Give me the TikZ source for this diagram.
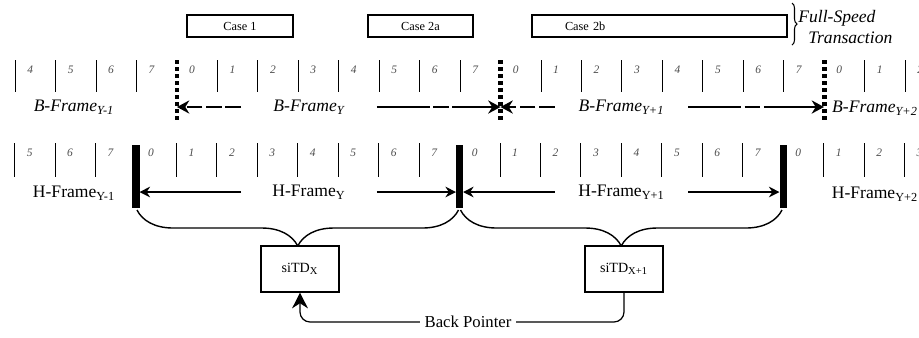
\documentclass[tikz,border=0pt]{standalone}
\usepackage{fontspec}
\setmainfont{Liberation Serif}
\usetikzlibrary{arrows.meta,decorations.pathreplacing}

\begin{document}
\begin{tikzpicture}[
  tick/.style={line width=0.6pt},
  digit/.style={font=\fontsize{6.5}{7}\selectfont\itshape, text=black!70, inner sep=0pt},
  bbound/.style={line width=2.8pt, dash pattern=on 2.3pt off 1.7pt},
  hbound/.style={line width=4pt},
  casebox/.style={draw, line width=0.6pt, minimum height=0.44cm, inner sep=1pt, font=\fontsize{7}{8}\selectfont},
  flabel/.style={fill=white, inner sep=1pt, font=\fontsize{10}{12}\selectfont},
  blabel/.style={flabel, font=\fontsize{10}{12}\selectfont\itshape},
  barr/.style={-{Stealth[length=7pt,width=7.5pt]}, line width=1.5pt, dash pattern=on 30pt off 2pt on 9pt off 2pt},
  barrl/.style={barr, dash pattern=on 9pt off 2pt},
  harr/.style={-{Stealth[length=6pt,width=6pt]}, line width=0.8pt, shorten >=2pt},
  hbrace/.style={decorate, decoration={brace, amplitude=0.72cm}, line width=0.8pt},
  tdbox/.style={draw, line width=0.6pt, fill=white, minimum width=1.56cm, minimum height=0.92cm, font=\fontsize{8}{9}\selectfont},
  bptr/.style={line width=0.7pt, rounded corners=0.2cm},
]
\useasboundingbox (0,0) rectangle (18.38,-6.74);

% ---------- Full-speed cases ----------
\node[casebox, minimum width=2.12cm] (c1) at (4.8,-0.52) {Case 1};
\node[casebox, minimum width=2.1cm] (c2a) at (8.41,-0.52) {Case 2a};
\node[casebox, text width=3.78cm, align=left, inner xsep=0.66cm] (c2b) at (13.19,-0.52) {Case 2b};
\draw[decorate, decoration={brace, amplitude=0.1cm}, line width=0.6pt] (15.84,-0.06) -- (15.84,-0.9);
\node[anchor=west, align=left, inner sep=0pt, font=\fontsize{10}{12}\selectfont\itshape] (fst) at (15.96,-0.54)
  {Full-Speed\\\hspace*{0.2cm}Transaction};

% ---------- B-Frame row ----------
\foreach \k in {-4,...,18}{
  \pgfmathtruncatemacro{\d}{mod(\k+16,8)}
  \pgfmathsetmacro{\x}{3.54+0.809*\k}
  \ifnum\d=0
    \draw[bbound] (\x,-1.2) -- (\x,-2.44);
  \else
    \draw[tick] (\x,-1.2) -- (\x,-1.84);
  \fi
  \node[digit] (bd\k) at (\x+0.3,-1.4) {\d};
}
\coordinate (bb0) at (3.54,-2.14);
\coordinate (bb1) at (10.01,-2.14);
\coordinate (bb2) at (16.48,-2.14);
\node[blabel] (lbYm) at (1.48,-2.14) {B-Frame\textsubscript{Y-1}};
\node[blabel, minimum width=2.7cm] (lbY) at (6.18,-2.14) {B-Frame\textsubscript{Y}};
\node[blabel, minimum width=2.66cm] (lbY1) at (12.43,-2.14) {B-Frame\textsubscript{Y+1}};
\node[blabel] (lbY2) at (17.5,-2.16) {B-Frame\textsubscript{Y+2}};
\draw[barrl] (lbY) -- (bb0);
\draw[barr] (lbY) -- (bb1);
\draw[barrl] (lbY1) -- (bb1);
\draw[barr] (lbY1) -- (bb2);

% ---------- H-Frame row ----------
\foreach \k in {-3,...,19}{
  \pgfmathtruncatemacro{\d}{mod(\k+16,8)}
  \pgfmathsetmacro{\x}{2.72+0.809*\k}
  \ifnum\d=0
    \draw[hbound] (\x,-2.9) -- (\x,-4.16);
  \else
    \draw[tick] (\x,-2.86) -- (\x,-3.54);
  \fi
  \node[digit] (hd\k) at (\x+0.3,-3.06) {\d};
}
\coordinate (hb0) at (2.72,-3.84);
\coordinate (hb1) at (9.19,-3.84);
\coordinate (hb2) at (15.66,-3.84);
\node[flabel] (lhYm) at (1.48,-3.86) {H-Frame\textsubscript{Y-1}};
\node[flabel, minimum width=2.7cm] (lhY) at (6.18,-3.84) {H-Frame\textsubscript{Y}};
\node[flabel, minimum width=2.66cm] (lhY1) at (12.43,-3.84) {H-Frame\textsubscript{Y+1}};
\node[flabel] (lhY2) at (17.5,-3.88) {H-Frame\textsubscript{Y+2}};
\draw[harr] (lhY) -- (hb0);
\draw[harr] (lhY) -- (hb1);
\draw[harr] (lhY1) -- (hb1);
\draw[harr] (lhY1) -- (hb2);

% ---------- siTDs ----------
\draw[hbrace] (9.17,-4.2) -- (2.74,-4.2);
\draw[hbrace] (15.64,-4.2) -- (9.21,-4.2);
\node[tdbox] (sx) at (6.0,-5.38) {siTD\textsubscript{X}};
\node[tdbox] (sx1) at (12.48,-5.38) {siTD\textsubscript{X+1}};
\node[fill=white, inner xsep=2.5pt, inner ysep=1pt, font=\fontsize{9.5}{11}\selectfont] (bp) at (9.36,-6.44) {Back Pointer};
\draw[bptr] (sx1.south) |- (bp.east);
\draw[bptr, -{Stealth[length=9pt,width=9pt]}] (bp.west) -| (sx.south);
\end{tikzpicture}
\end{document}
